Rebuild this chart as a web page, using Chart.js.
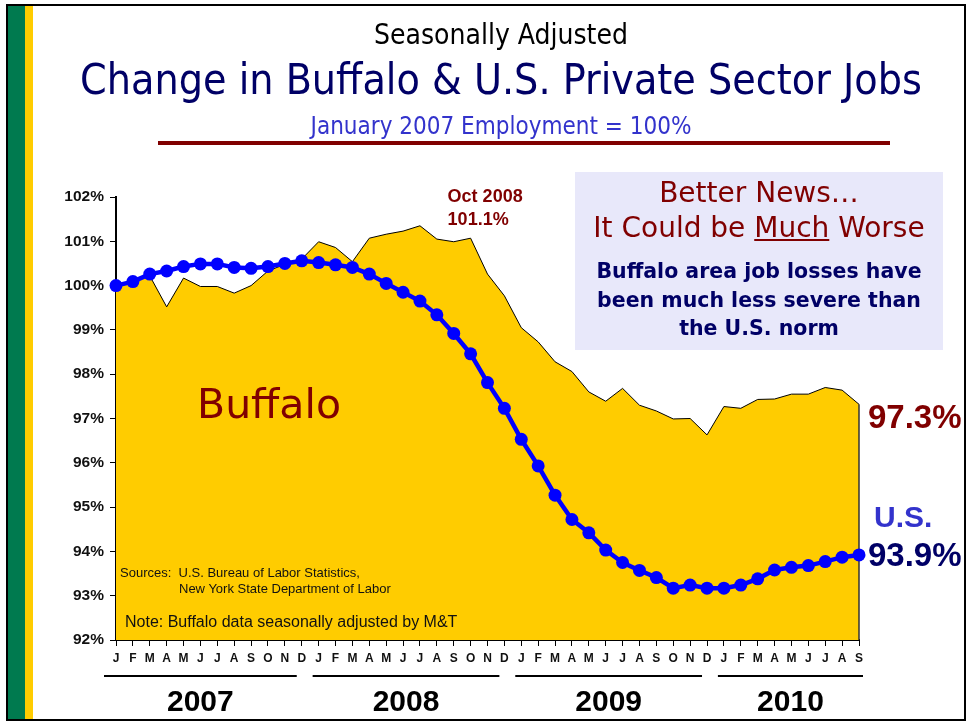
<!DOCTYPE html>
<html>
<head>
<meta charset="utf-8">
<script src="https://cdn.jsdelivr.net/npm/chart.js@4.4.1/dist/chart.umd.min.js"></script>
<style>
  html, body { margin: 0; padding: 0; background: #fff; }
  #wrap { position: relative; width: 969px; height: 723px; overflow: hidden; background: #fff; }
  #c { position: absolute; left: 0; top: 0; }
  .t { position: absolute; white-space: pre; }
</style>
</head>
<body>
<div id="wrap">
  <canvas id="c" width="969" height="723"></canvas>
</div>
<script>
// ---------- DATA ----------
const monthLabels = ['J','F','M','A','M','J','J','A','S','O','N','D',
                     'J','F','M','A','M','J','J','A','S','O','N','D',
                     'J','F','M','A','M','J','J','A','S','O','N','D',
                     'J','F','M','A','M','J','J','A','S'];
const buffalo = [100.0, 100.1, 100.22, 99.52, 100.17, 99.98, 99.98, 99.83, 100.0, 100.33,
                 100.48, 100.6, 100.99, 100.86, 100.54, 101.07, 101.16, 101.23, 101.35, 101.05,
                 100.99, 101.07, 100.26, 99.77, 99.05, 98.73, 98.28, 98.06, 97.6, 97.39,
                 97.68, 97.3, 97.17, 96.99, 97.0, 96.63, 97.27, 97.23, 97.43, 97.44,
                 97.55, 97.55, 97.7, 97.64, 97.32];
const us = [100.0, 100.09, 100.26, 100.33, 100.43, 100.49, 100.49, 100.41, 100.39, 100.43,
            100.5, 100.56, 100.52, 100.47, 100.41, 100.26, 100.05, 99.85, 99.65, 99.34,
            98.92, 98.46, 97.81, 97.23, 96.53, 95.93, 95.27, 94.72, 94.42, 94.03,
            93.75, 93.57, 93.41, 93.17, 93.24, 93.17, 93.17, 93.24, 93.38, 93.58,
            93.64, 93.68, 93.77, 93.87, 93.92];
const years = ['2007', '2008', '2009', '2010'];
const yearFirstIdx = [0, 12, 24, 36];
const yearLastIdx = [11, 23, 35, 44];
const yMin = 92, yMax = 102, yStep = 1;
const peakIdx = 21; // Oct 2008

// ---------- HELPERS ----------
const VERD = '"DejaVu Sans", Verdana, sans-serif';
const VERDC = '"DejaVu Sans Condensed", "DejaVu Sans", Tahoma, sans-serif';
const ARIAL = '"Liberation Sans", Arial, Helvetica, sans-serif';
const wrap = document.getElementById('wrap');

function box(x, y, w, h, css) {
  const d = document.createElement('div');
  d.style.position = 'absolute';
  d.style.left = x + 'px'; d.style.top = y + 'px';
  d.style.width = w + 'px'; d.style.height = h + 'px';
  Object.assign(d.style, css || {});
  wrap.appendChild(d);
  return d;
}
function txt(str, x, cy, o) {
  const d = document.createElement('div');
  d.className = 't';
  if (o.html) d.innerHTML = str; else d.textContent = str;
  d.style.font = (o.weight || 'normal') + ' ' + o.size + 'px ' + o.family;
  if (o.stretch) d.style.fontStretch = o.stretch;
  d.style.lineHeight = (o.size * 1.2) + 'px';
  d.style.color = o.color || '#000';
  d.style.top = (cy - o.size * 0.6) + 'px';
  d.style.left = x + 'px';
  if (o.align === 'center') d.style.transform = 'translateX(-50%)';
  else if (o.align === 'right') d.style.transform = 'translateX(-100%)';
  wrap.appendChild(d);
  return d;
}

// ---------- DECOR ----------
box(6, 4, 960, 717, { border: '2px solid #000', boxSizing: 'border-box' });
box(8, 6, 17, 713, { background: '#007a4f' });
box(25, 6, 8, 713, { background: '#ffcc00' });
box(158, 141, 732, 4, { background: '#800000' });
box(575, 172, 368, 178, { background: '#e8e8fa' });

// ---------- TITLES ----------
txt('Seasonally Adjusted', 501, 35, { size: 28, family: VERDC, stretch: 'condensed', color: '#000', align: 'center' });
txt('Change in Buffalo & U.S. Private Sector Jobs', 501, 79, { size: 42.5, family: VERDC, stretch: 'condensed', color: '#000066', align: 'center' });
txt('January 2007 Employment = 100%', 501, 126, { size: 24, family: VERDC, stretch: 'condensed', color: '#3333cc', align: 'center' });

// ---------- CALLOUT BOX ----------
txt('Better News…', 759, 193, { size: 28, family: VERD, color: '#800000', align: 'center' });
txt('It Could be <u>Much</u> Worse', 759, 228, { size: 28, family: VERD, color: '#800000', align: 'center', html: true });
txt('Buffalo area job losses have', 759, 271, { size: 20.5, weight: 'bold', family: VERD, color: '#000066', align: 'center' });
txt('been much less severe than', 759, 300, { size: 20.5, weight: 'bold', family: VERD, color: '#000066', align: 'center' });
txt('the U.S. norm', 759, 328, { size: 20.5, weight: 'bold', family: VERD, color: '#000066', align: 'center' });

// ---------- CHART ----------
const edgeAndYears = {
  id: 'edgeAndYears',
  afterDatasetDraw(chart, args) {
    if (args.index !== 0) return;
    const x = chart.scales.x, y = chart.scales.y, ctx = chart.ctx;
    const last = buffalo.length - 1;
    ctx.save();
    ctx.strokeStyle = '#333';
    ctx.lineWidth = 1.5;
    ctx.beginPath();
    ctx.moveTo(x.getPixelForValue(last), y.getPixelForValue(buffalo[last]));
    ctx.lineTo(x.getPixelForValue(last), chart.chartArea.bottom);
    ctx.stroke();
    ctx.restore();
  },
  afterDraw(chart) {
    const x = chart.scales.x, ctx = chart.ctx;
    const ly = chart.chartArea.bottom + 36;
    ctx.save();
    ctx.strokeStyle = '#000';
    ctx.lineWidth = 2;
    years.forEach((yr, i) => {
      const s = x.getPixelForValue(yearFirstIdx[i]) - (i === 0 ? 12 : 6);
      const e = x.getPixelForValue(yearLastIdx[i]) + (i === years.length - 1 ? 4 : -5);
      ctx.beginPath();
      ctx.moveTo(s, ly); ctx.lineTo(e, ly);
      ctx.stroke();
    });
    ctx.restore();
  }
};

const chart = new Chart(document.getElementById('c'), {
  type: 'line',
  data: {
    labels: monthLabels,
    datasets: [
      {
        label: 'Buffalo',
        data: buffalo,
        order: 1,
        borderColor: '#000',
        borderWidth: 1,
        backgroundColor: '#ffcc00',
        fill: 'start',
        pointRadius: 0,
        tension: 0
      },
      {
        label: 'U.S.',
        data: us,
        order: 0,
        borderColor: '#0000ff',
        borderWidth: 4.5,
        pointRadius: 6.5,
        pointBackgroundColor: '#0000ff',
        pointBorderColor: '#0000ff',
        pointBorderWidth: 0,
        fill: false,
        tension: 0,
        clip: false
      }
    ]
  },
  options: {
    responsive: false,
    devicePixelRatio: 1,
    animation: false,
    events: [],
    layout: { padding: { left: 0, top: 197, right: 110, bottom: 0 } },
    plugins: { legend: { display: false }, tooltip: { enabled: false }, title: { display: false } },
    scales: {
      x: {
        type: 'category',
        offset: false,
        afterFit(s) { s.height = 83; },
        grid: { drawOnChartArea: false, tickLength: 6, tickColor: '#000', tickWidth: 1 },
        border: { color: '#000', width: 2 },
        ticks: {
          autoSkip: false, maxRotation: 0, minRotation: 0, padding: 5,
          color: '#111', font: { family: ARIAL, size: 12, weight: 'bold' }
        }
      },
      y: {
        min: yMin, max: yMax,
        afterFit(s) { s.width = 116; },
        grid: { drawOnChartArea: false, tickLength: 6, tickColor: '#000', tickWidth: 1 },
        border: { color: '#000', width: 2 },
        ticks: {
          stepSize: yStep, padding: 6,
          color: '#111', font: { family: ARIAL, size: 15.5, weight: 'bold' },
          callback: v => v + '%'
        }
      }
    }
  },
  plugins: [edgeAndYears]
});

// ---------- ANNOTATIONS (anchored via scales) ----------
const xs = chart.scales.x, ys = chart.scales.y, ca = chart.chartArea;
const lastI = buffalo.length - 1;
txt('Buffalo', 197, 405, { size: 41, family: VERD, color: '#800000' });
txt('Oct 2008', xs.getPixelForValue(peakIdx) - 23, 197, { size: 18, weight: 'bold', family: ARIAL, color: '#800000' });
txt(buffalo[peakIdx].toFixed(1) + '%', xs.getPixelForValue(peakIdx) - 23, 220, { size: 18, weight: 'bold', family: ARIAL, color: '#800000' });
txt(buffalo[lastI].toFixed(1) + '%', ca.right + 9, ys.getPixelForValue(buffalo[lastI]) + 12, { size: 33, weight: 'bold', family: ARIAL, color: '#800000' });
txt('U.S.', ca.right + 15, ys.getPixelForValue(us[lastI]) - 38, { size: 30, weight: 'bold', family: ARIAL, color: '#3333cc' });
txt(us[lastI].toFixed(1) + '%', ca.right + 9, ys.getPixelForValue(us[lastI]), { size: 33, weight: 'bold', family: ARIAL, color: '#000066' });
txt('Sources:  U.S. Bureau of Labor Statistics,', 120, 573, { size: 13, family: ARIAL, color: '#111' });
txt('New York State Department of Labor', 179, 589, { size: 13, family: ARIAL, color: '#111' });
txt('Note: Buffalo data seasonally adjusted by M&T', 125, 622, { size: 16, family: ARIAL, color: '#111' });
years.forEach((yr, i) => {
  const s = xs.getPixelForValue(yearFirstIdx[i]) - (i === 0 ? 12 : 6);
  const e = xs.getPixelForValue(yearLastIdx[i]) + (i === years.length - 1 ? 4 : -5);
  txt(yr, (s + e) / 2, ca.bottom + 61, { size: 30, weight: 'bold', family: ARIAL, color: '#000', align: 'center' });
});
</script>
</body>
</html>
